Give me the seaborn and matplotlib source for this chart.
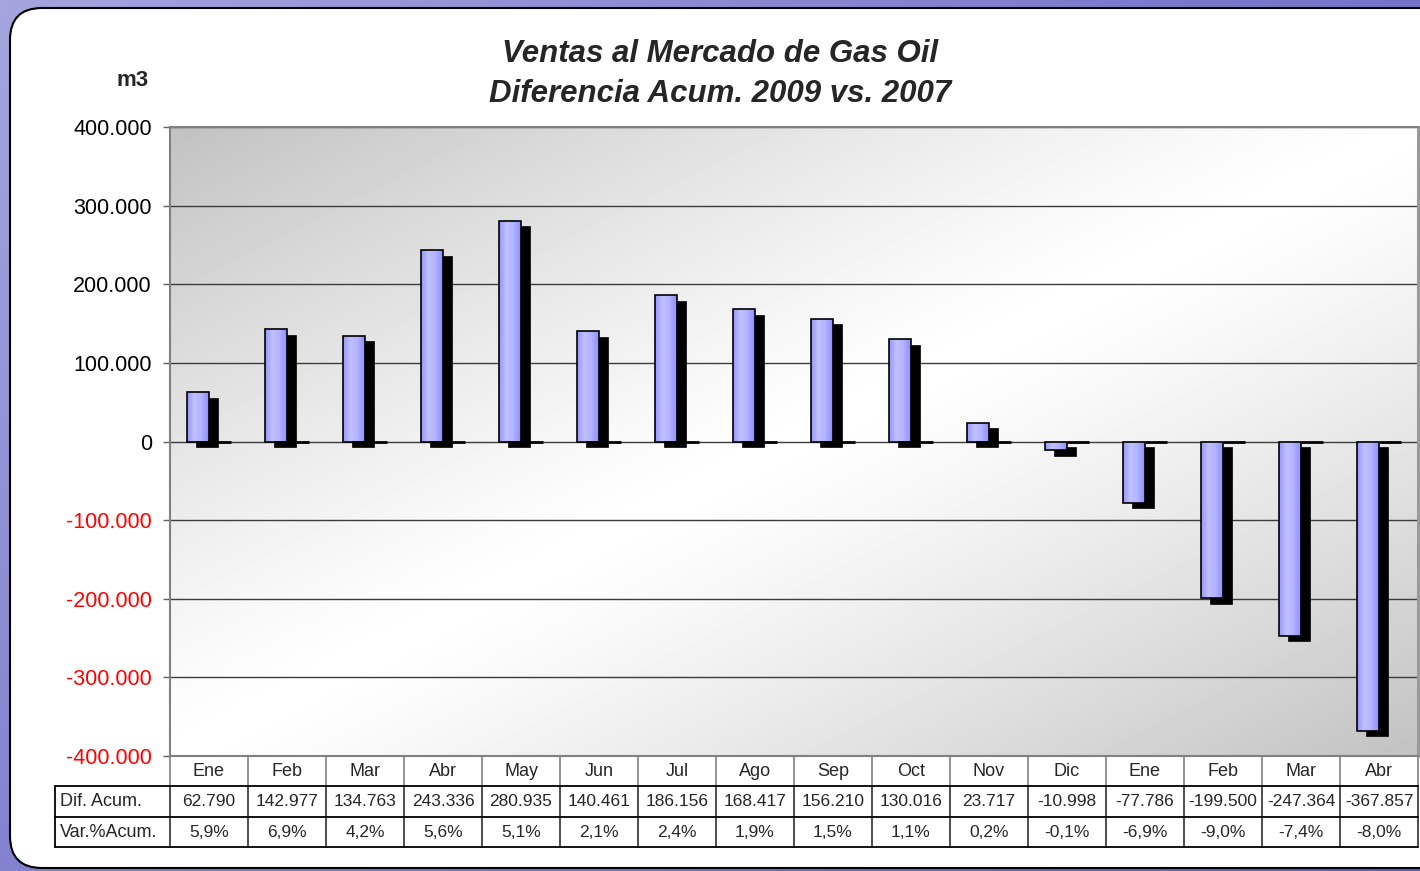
#!/usr/bin/env python3
"""Ventas al Mercado de Gas Oil - diferencia acumulada 2009 vs 2007 (barras con tabla)."""
import matplotlib
matplotlib.use("Agg")
import matplotlib.pyplot as plt
import matplotlib.transforms as mtransforms
import numpy as np
import pandas as pd
import seaborn as sns
from matplotlib.colors import LinearSegmentedColormap
from matplotlib.patches import FancyBboxPatch, Rectangle
from matplotlib.ticker import FuncFormatter, MultipleLocator

MESES = ["Ene", "Feb", "Mar", "Abr", "May", "Jun", "Jul", "Ago",
         "Sep", "Oct", "Nov", "Dic", "Ene", "Feb", "Mar", "Abr"]
ANIOS = [2008] * 12 + [2009] * 4
DIF_ACUM = [62790, 142977, 134763, 243336, 280935, 140461, 186156, 168417,
            156210, 130016, 23717, -10998, -77786, -199500, -247364, -367857]
VAR_ACUM = [5.9, 6.9, 4.2, 5.6, 5.1, 2.1, 2.4, 1.9,
            1.5, 1.1, 0.2, -0.1, -6.9, -9.0, -7.4, -8.0]
ROW_LABELS = ["Dif. Acum.", "Var.%Acum."]
TITLE = ["Ventas al Mercado de Gas Oil", "Diferencia Acum. 2009 vs. 2007"]
UNIDAD = "m3"

# layout in pixels
W, H = 1420, 871
PL, PR, PT, PB = 170, 1418, 127, 756
ROW_H = [30, 31, 30]
LABEL_X = 55


def miles(v: float) -> str:
    return f"{int(v):,}".replace(",", ".")


def pct(v: float) -> str:
    return f"{v:.1f}%".replace(".", ",")


sns.set_theme(style="white")
plt.rcParams["font.family"] = ["Liberation Sans", "DejaVu Sans"]

fig = plt.figure(figsize=(W / 100, H / 100), dpi=100)

# ---- background: blue frame + white rounded panel
ax_bg = fig.add_axes([0, 0, 1, 1], zorder=-1)
ax_bg.set_xlim(0, W)
ax_bg.set_ylim(H, 0)
ax_bg.axis("off")
blue = LinearSegmentedColormap.from_list("blue", ["#a4a4de", "#7a7acc", "#5e5ebf"])
gy, gx = np.mgrid[0:1:60j, 0:1:120j]
ax_bg.imshow(0.6 * gx + 0.4 * gy, cmap=blue, extent=[0, W, H, 0], aspect="auto", zorder=0)
ax_bg.add_patch(FancyBboxPatch((10, 8), W + 40, 860, boxstyle="round,pad=0,rounding_size=32",
                               fc="white", ec="black", lw=1.5, zorder=1))

# ---- main axes
ax = fig.add_axes([PL / W, 1 - PB / H, (PR - PL) / W, (PB - PT) / H])

periodos = [f"{m}-{a}" for m, a in zip(MESES, ANIOS)]
df = pd.DataFrame({
    "periodo": periodos * 2,
    "serie": ["dif"] * len(periodos) + ["cero"] * len(periodos),
    "m3": DIF_ACUM + [0] * len(periodos),
})
sns.barplot(data=df, x="periodo", y="m3", hue="serie", order=periodos,
            hue_order=["dif", "cero"], palette=["#b0b0ff", "#b0b0ff"],
            width=0.56, dodge=True, errorbar=None, legend=False,
            edgecolor="black", linewidth=1.2, ax=ax)

bar_cmap = LinearSegmentedColormap.from_list(
    "barra", ["#9494ff", "#c0c0ff", "#b2b2ff", "#8e8eff"])
grad = np.linspace(0, 1, 64).reshape(1, -1)
shadow_tr = ax.transData + mtransforms.ScaledTranslation(9 / 100, -5.5 / 100, fig.dpi_scale_trans)

for bar in ax.containers[0]:
    x, y = bar.get_x(), bar.get_y()
    w, h = bar.get_width(), bar.get_height()
    ax.add_patch(Rectangle((x, y), w, h, transform=shadow_tr, fc="black",
                           ec="black", lw=0.5, zorder=3))
    im = ax.imshow(grad, cmap=bar_cmap, extent=[x, x + w, y, y + h],
                   aspect="auto", zorder=3.5)
    im.set_clip_path(bar)
    bar.set_facecolor("none")
    bar.set_zorder(4)
for bar in ax.containers[1]:
    bar.set_linewidth(2)
    bar.set_zorder(4)

# plot-area gradient (dark top-left / bottom-right, white along the other diagonal)
yy, xx = np.mgrid[0:1:200j, 0:1:200j]
u = (xx + yy) / 2
shade = 1 - 0.24 * np.clip(np.abs(u - 0.5) / 0.5, 0, 1) ** 1.2
ax.imshow(shade, cmap="gray", vmin=0, vmax=1, extent=[0, 1, 0, 1],
          transform=ax.transAxes, aspect="auto", zorder=0)

ax.set_xlim(-0.5, len(periodos) - 0.5)
ax.set_ylim(-400000, 400000)
ax.yaxis.set_major_locator(MultipleLocator(100000))
ax.yaxis.set_major_formatter(FuncFormatter(lambda v, p: miles(v)))
ax.set_axisbelow(True)
ax.yaxis.grid(True, color="#3c3c3c", lw=1)
ax.set_xticks([])
ax.set_xlabel("")
ax.set_ylabel("")
ax.tick_params(axis="y", left=True, length=5, width=1, color="#606060",
               labelsize=15.5, pad=8)
for lbl, v in zip(ax.get_yticklabels(), ax.get_yticks()):
    lbl.set_color("#ff0000" if v < 0 else "black")
for side, sp in ax.spines.items():
    sp.set_color("#808080")
    sp.set_linewidth(1.5)
ax.spines["right"].set_linewidth(2.2)
ax.spines["right"].set_color("#9a9a9a")

# ---- titles
fig.text(720 / W, 1 - 54 / H, TITLE[0], ha="center", va="center",
         fontsize=22.5, fontweight="bold", fontstyle="italic")
fig.text(720 / W, 1 - 94 / H, TITLE[1], ha="center", va="center",
         fontsize=22.5, fontweight="bold", fontstyle="italic")
fig.text(133 / W, 1 - 80 / H, UNIDAD, ha="center", va="center",
         fontsize=16, fontweight="bold")

# ---- data table under the axis
n = len(MESES)
cw = (PR - PL) / n
y0 = PB
y1 = y0 + ROW_H[0]
y2 = y1 + ROW_H[1]
y3 = y2 + ROW_H[2]
for i in range(n + 1):
    xe = PL + i * cw
    ax_bg.plot([xe, xe], [y0, y1], color="#808080", lw=1.2, zorder=3)
    ax_bg.plot([xe, xe], [y1, y3], color="#303030", lw=1.2, zorder=3)
ax_bg.plot([LABEL_X, LABEL_X], [y1, y3], color="black", lw=1.3, zorder=3)
for ye in (y1, y2, y3):
    ax_bg.plot([LABEL_X, PR], [ye, ye], color="black", lw=1.3, zorder=3)

for i, (mes, dif, var) in enumerate(zip(MESES, DIF_ACUM, VAR_ACUM)):
    xc = PL + (i + 0.5) * cw
    ax_bg.text(xc, (y0 + y1) / 2, mes, ha="center", va="center", fontsize=13, zorder=4)
    ax_bg.text(xc, (y1 + y2) / 2, miles(dif), ha="center", va="center", fontsize=12.5, zorder=4)
    ax_bg.text(xc, (y2 + y3) / 2, pct(var), ha="center", va="center", fontsize=12.5, zorder=4)
for lbl, (ya, yb) in zip(ROW_LABELS, [(y1, y2), (y2, y3)]):
    ax_bg.text(LABEL_X + 5, (ya + yb) / 2, lbl, ha="left", va="center", fontsize=13, zorder=4)

fig.savefig("out.png", dpi=100)
